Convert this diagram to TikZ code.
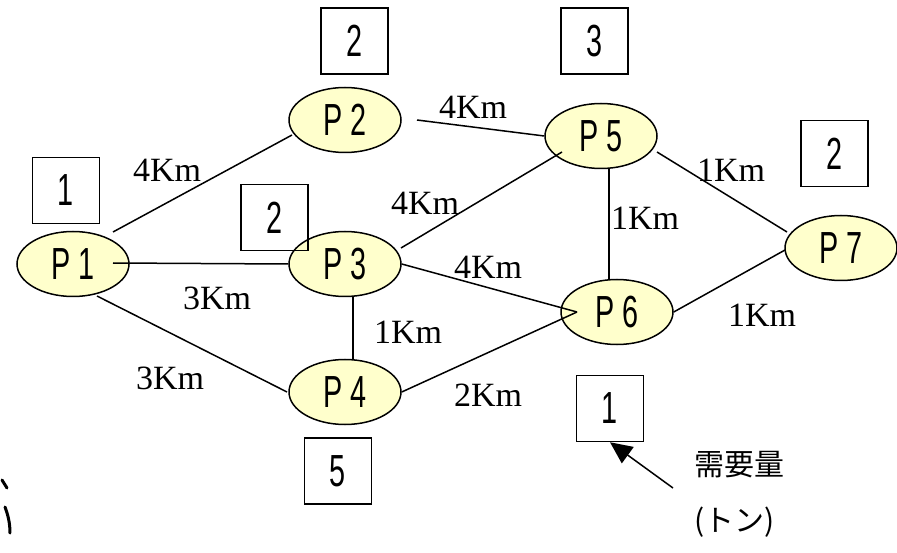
\documentclass[tikz,border=0pt]{standalone}
\usepackage{fontspec}
\setmainfont{Liberation Serif}
\newfontfamily\nodefont[FakeStretch=0.64]{Liberation Sans}
\newfontfamily\jpfont{Noto Sans CJK JP}
\usetikzlibrary{shapes.geometric,calc,arrows.meta}
\definecolor{nodefill}{RGB}{255,255,204}
\tikzset{
  place/.style={ellipse, draw, line width=1.5pt, fill=nodefill, minimum width=112pt, minimum height=65pt, inner sep=0pt, font=\nodefont\fontsize{45}{48}\selectfont},
  demand/.style={draw, line width=1.5pt, minimum width=67pt, minimum height=66pt, inner sep=0pt, font=\nodefont\fontsize{45}{48}\selectfont},
  edge/.style={line width=1.5pt},
  dist/.style={inner sep=0pt, font=\fontsize{34}{36}\selectfont},
  jp/.style={inner sep=0pt, anchor=west, font=\jpfont\fontsize{30}{32}\selectfont},
  stroke/.style={line width=3pt, line cap=round},
}
\begin{document}
\begin{tikzpicture}[x=1pt,y=-1pt]
\useasboundingbox (0,0) rectangle (897,553);
% places
\node[place] (P1) at (73,264) {P 1};
\node[place] (P2) at (345,120) {P 2};
\node[place] (P3) at (345,264) {P 3};
\node[place] (P4) at (345,392) {P 4};
\node[place] (P5) at (601,136) {P 5};
\node[place] (P6) at (617,312) {P 6};
\node[place] (P7) at (841,248) {P 7};
% edges
\draw[edge] ($(P1)+(40,-32)$) -- ($(P2)+(-53,15)$);
\draw[edge] ($(P1)+(40,-1)$) -- (P3.west);
\draw[edge] ($(P1)+(24,32)$) -- ($(P4)+(-58,0)$);
\draw[edge] ($(P2)+(72,0)$) -- (P5.west);
\draw[edge] ($(P3)+(56,-16)$) -- ($(P5)+(-39,16)$);
\draw[edge] (P3.east) -- ($(P6)+(-40,0)$);
\draw[edge] ($(P3)+(8,32.5)$) -- ($(P4)+(8,-32.5)$);
\draw[edge] (P4.east) -- ($(P6)+(-40,0)$);
\draw[edge] ($(P5)+(8,32)$) -- ($(P6)+(-8,-32)$);
\draw[edge] ($(P5)+(56,16)$) -- ($(P7)+(-54,-16)$);
\draw[edge] (P6.east) -- ($(P7)+(-56,2)$);
% demand boxes
\node[demand] (b1) at (66,190.5) {1};
\node[demand] (b2) at (354.5,41) {2};
\node[demand] (b3) at (594.5,41) {3};
\node[demand] (b4) at (274.5,217.5) {2};
\node[demand] (b5) at (834.5,153.5) {2};
\node[demand] (b6) at (338,471) {5};
\node[demand] (b7) at (610,408.5) {1};
% distances
\node[dist] (d1) at (473,107) {4Km};
\node[dist] (d2) at (167,170) {4Km};
\node[dist] (d3) at (731,170) {1Km};
\node[dist] (d4) at (425,203) {4Km};
\node[dist] (d5) at (645,218) {1Km};
\node[dist] (d6) at (488,267) {4Km};
\node[dist] (d7) at (217,298) {3Km};
\node[dist] (d8) at (408,332) {1Km};
\node[dist] (d9) at (762,315) {1Km};
\node[dist] (d10) at (170,378) {3Km};
\node[dist] (d11) at (488,395) {2Km};
% legend
\coordinate (ls) at (673,488);
\draw[edge, -{Triangle[length=22pt,width=20pt]}] (ls) -- (b7.south);
\node[jp] (l1) at (694,465) {需要量};
\node[jp] (l2) at (694,522) {(トン)};
% cut-off fragments at the left edge
\draw[stroke] (2,480) -- (7,488);
\draw[stroke] (5,507) .. controls (8,515) and (10,523) .. (10,533);
\end{tikzpicture}
\end{document}
